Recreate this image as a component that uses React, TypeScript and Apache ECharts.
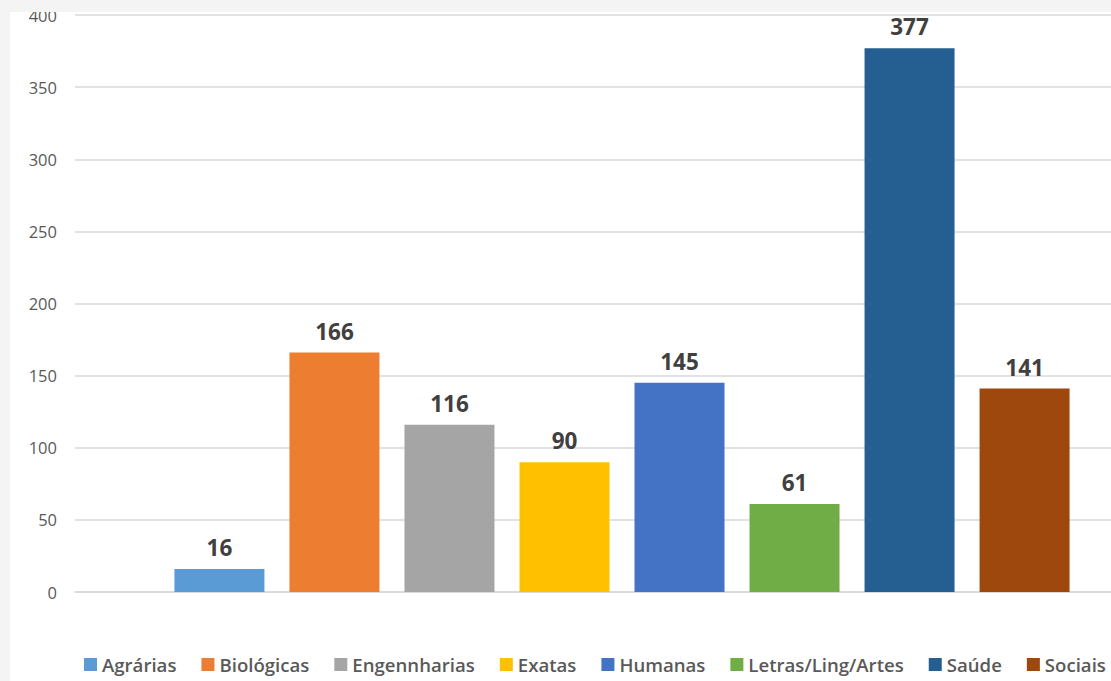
import React, { useEffect, useRef } from "react";
import * as echarts from "echarts";

// Número de trabalhos por grande área
const areas = [
  "Agrárias",
  "Biológicas",
  "Engennharias",
  "Exatas",
  "Humanas",
  "Letras/Ling/Artes",
  "Saúde",
  "Sociais",
];
const totals = [16, 166, 116, 90, 145, 61, 377, 141];
const areaColors = [
  "#5B9BD5",
  "#ED7D31",
  "#A5A5A5",
  "#FFC000",
  "#4472C4",
  "#70AD47",
  "#255E91",
  "#9E480E",
];
const yTicks = { min: 0, max: 400, interval: 50 };

const FONT = "'Open Sans', 'Noto Sans', sans-serif";

export default function App() {
  const ref = useRef<HTMLDivElement>(null);

  useEffect(() => {
    if (!ref.current) return;
    const chart = echarts.init(ref.current, undefined, { renderer: "svg" });
    chart.setOption({
      animation: false,
      backgroundColor: "#ffffff",
      grid: { left: 75, right: 11, top: 15, bottom: 89, containLabel: false },
      legend: {
        left: 79,
        bottom: 2,
        itemWidth: 13,
        itemHeight: 13,
        itemGap: 25,
        icon: "rect",
        textStyle: {
          color: "#595959",
          fontSize: 18.6,
          fontWeight: 600,
          fontFamily: FONT,
        },
        data: areas,
      },
      xAxis: {
        type: "category",
        data: [""],
        axisLine: { show: true, lineStyle: { color: "#d9d9d9", width: 1.5 } },
        axisTick: { show: false },
        axisLabel: { show: false },
      },
      yAxis: {
        type: "value",
        min: yTicks.min,
        max: yTicks.max,
        interval: yTicks.interval,
        axisLine: { show: false },
        axisTick: { show: false },
        axisLabel: {
          color: "#595959",
          fontSize: 16.5,
          fontFamily: FONT,
          margin: 18,
        },
        splitLine: { lineStyle: { color: "#d9d9d9", width: 1.5 } },
      },
      series: areas.map((name, i) => ({
        name,
        type: "bar",
        data: [totals[i]],
        barWidth: 90,
        barGap: "27.8%",
        itemStyle: { color: areaColors[i] },
        label: {
          show: true,
          position: "top",
          distance: 10,
          color: "#404040",
          fontSize: 22.5,
          fontWeight: "bold",
          fontFamily: FONT,
        },
      })),
      graphic: [
        {
          type: "rect",
          z: 100,
          shape: { x: 0, y: 0, width: 1180, height: 12 },
          style: { fill: "#f4f4f4" },
        },
        {
          type: "rect",
          z: 100,
          shape: { x: 0, y: 0, width: 10, height: 681 },
          style: { fill: "#f4f4f4" },
        },
      ],
    });
    return () => chart.dispose();
  }, []);

  return (
    <div
      style={{
        position: "fixed",
        left: 0,
        top: 0,
        width: 1111,
        height: 681,
        overflow: "hidden",
        background: "#f4f4f4",
      }}
    >
      <div ref={ref} style={{ width: 1180, height: 681 }} />
    </div>
  );
}
